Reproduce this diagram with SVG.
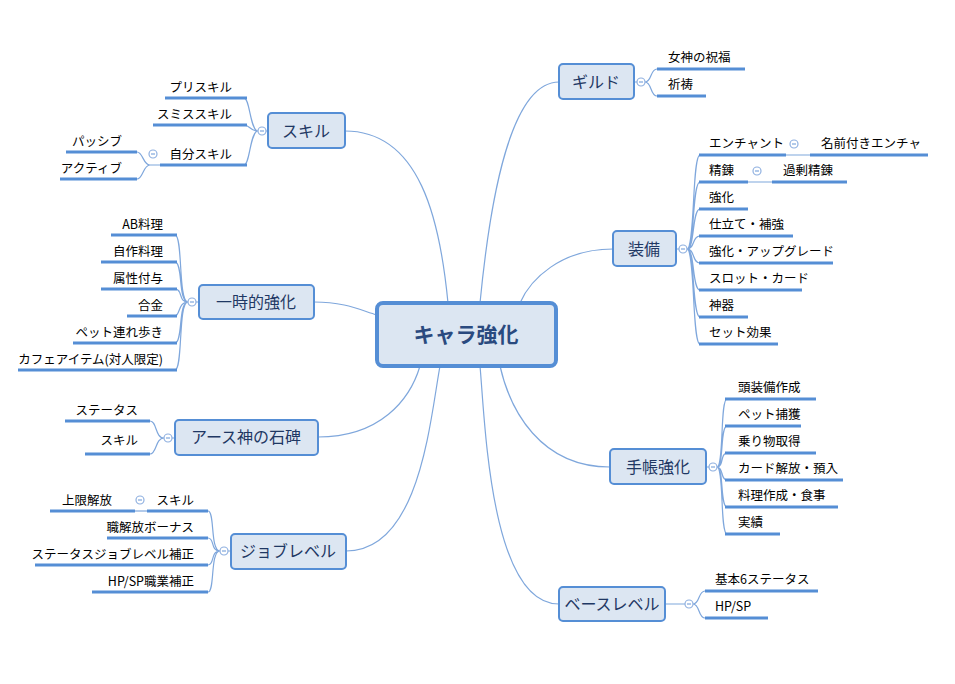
<svg xmlns="http://www.w3.org/2000/svg" width="955" height="684" viewBox="0 0 955 684">
<style>
text{font-family:"Noto Sans CJK JP","Liberation Sans",sans-serif;fill:#000}
.leaf{font-size:12.5px}
.lr{font-size:12.5px;text-anchor:end}
.tp{font-size:16px;fill:#1f3864;text-anchor:middle}
.box{fill:#dce6f2;stroke:#558ed5;stroke-width:2}
.ul{stroke:#558ed5;stroke-width:3}
.c{fill:none;stroke:#7fa7dc;stroke-width:1.2}
.col{fill:#fff;stroke:#8fb0e0;stroke-width:1.2}
.m{stroke:#7fa7dc;stroke-width:1.2}
</style>
<rect width="955" height="684" fill="#fff"/>
<g id="connectors">
<path class="c" d="M345,131 C420,131 440,220 448,303"/>
<path class="c" d="M314,302 C345,302 360,310 377,315"/>
<path class="c" d="M318,437 C380,437 410,400 420,366"/>
<path class="c" d="M346,551 C420,551 430,420 440,366"/>
<path class="c" d="M559,82 C510,82 490,200 480,303"/>
<path class="c" d="M613,249 C560,249 530,280 520,303"/>
<path class="c" d="M610,467 C540,467 510,410 500,366"/>
<path class="c" d="M559,604 C490,604 485,420 480,366"/>
<!-- skill -->
<path class="c" d="M268,131 H266 M258,131 C250,131 250,98 244,98 M258,131 C250,131 250,125 244,125 M258,131 C250,131 250,165 244,165"/>
<path class="c" d="M160,165 H150 C143,165 143,152 137,152 M150,165 C143,165 143,179 137,179"/>
<!-- temp -->
<path class="c" d="M199,302 H196 M188,302 C178,302 183,235 175,235 M188,302 C178,302 183,262 175,262 M188,302 C178,302 183,289 175,289 M188,302 C178,302 180,316 175,316 M188,302 C178,302 183,343 175,343 M188,302 C178,302 183,370 175,370"/>
<!-- earth -->
<path class="c" d="M175,438 H172 M164,438 C155,438 157,421 150,421 M164,438 C155,438 157,454 150,454"/>
<!-- job -->
<path class="c" d="M231,551 H228 M220,551 C210,551 215,511 208,511 M220,551 C210,551 215,538 208,538 M220,551 C210,551 215,565 208,565 M220,551 C210,551 215,592 208,592"/>
<path class="c" d="M147,511 H135"/>
<!-- guild -->
<path class="c" d="M634,82 H637 M645,82 C652,82 650,69 657,69 M645,82 C652,82 650,96 657,96"/>
<!-- equip -->
<path class="c" d="M676,249 H679 M687,249 C695,249 692,155 700,155 M687,249 C695,249 692,182 700,182 M687,249 C695,249 692,209 700,209 M687,249 C695,249 692,236 700,236 M687,249 C695,249 692,263 700,263 M687,249 C695,249 692,290 700,290 M687,249 C695,249 692,317 700,317 M687,249 C695,249 692,344 700,344"/>
<path class="c" d="M786,155 H810 M748,182 H772"/>
<!-- techo -->
<path class="c" d="M706,467 H709 M717,467 C724,467 720,399 727,399 M717,467 C724,467 720,426 727,426 M717,467 C724,467 720,453 727,453 M717,467 C724,467 720,480 727,480 M717,467 C724,467 720,507 727,507 M717,467 C724,467 720,534 727,534"/>
<!-- base -->
<path class="c" d="M665,604 H685 M693,604 C700,604 698,591 705,591 M693,604 C700,604 698,618 705,618"/>
</g>
<g id="center"><rect x="377" y="303" width="179" height="63" rx="6" fill="#dce6f2" stroke="#558ed5" stroke-width="4"/><text x="466" y="342" font-size="21" font-weight="bold" fill="#1f4e8c" text-anchor="middle" style="fill:#2a4a7f">キャラ強化</text></g>
<g id="skill"><rect class="box" x="268" y="113" width="77" height="35" rx="4"/><text class="tp" x="306" y="137">スキル</text><circle class="col" cx="262" cy="131" r="4"/><line class="m" x1="260" y1="131" x2="264" y2="131"/>
<line class="ul" x1="165" y1="98" x2="247" y2="98"/><text class="lr" x="232" y="92">プリスキル</text>
<line class="ul" x1="153" y1="125" x2="247" y2="125"/><text class="lr" x="232" y="119">スミススキル</text>
<line class="ul" x1="160" y1="165" x2="247" y2="165"/><text class="lr" x="232" y="159">自分スキル</text>
<circle class="col" cx="153" cy="154" r="4"/><line class="m" x1="151" y1="154" x2="155" y2="154"/>
<line class="ul" x1="66" y1="152" x2="137" y2="152"/><text class="lr" x="122" y="146">パッシブ</text>
<line class="ul" x1="60" y1="179" x2="137" y2="179"/><text class="lr" x="122" y="173">アクティブ</text></g>
<g id="temp"><rect class="box" x="199" y="285" width="115" height="34" rx="4"/><text class="tp" x="256" y="308">一時的強化</text><circle class="col" cx="192" cy="302" r="4"/><line class="m" x1="190" y1="302" x2="194" y2="302"/>
<line class="ul" x1="111" y1="235" x2="177" y2="235"/><text class="lr" x="163" y="229">AB料理</text>
<line class="ul" x1="101" y1="262" x2="177" y2="262"/><text class="lr" x="163" y="256">自作料理</text>
<line class="ul" x1="101" y1="289" x2="177" y2="289"/><text class="lr" x="163" y="283">属性付与</text>
<line class="ul" x1="127" y1="316" x2="177" y2="316"/><text class="lr" x="163" y="310">合金</text>
<line class="ul" x1="73" y1="343" x2="177" y2="343"/><text class="lr" x="163" y="337">ペット連れ歩き</text>
<line class="ul" x1="18" y1="370" x2="177" y2="370"/><text class="lr" x="163" y="364">カフェアイテム(対人限定)</text></g>
<g id="earth"><rect class="box" x="175" y="420" width="143" height="35" rx="4"/><text class="tp" x="246" y="443">アース神の石碑</text><circle class="col" cx="168" cy="438" r="4"/><line class="m" x1="166" y1="438" x2="170" y2="438"/>
<line class="ul" x1="65" y1="421" x2="150" y2="421"/><text class="lr" x="138" y="415">ステータス</text>
<line class="ul" x1="85" y1="454" x2="150" y2="454"/><text class="lr" x="138" y="445">スキル</text></g>
<g id="job"><rect class="box" x="231" y="534" width="115" height="35" rx="4"/><text class="tp" x="288" y="557">ジョブレベル</text><circle class="col" cx="224" cy="551" r="4"/><line class="m" x1="222" y1="551" x2="226" y2="551"/>
<line class="ul" x1="147" y1="511" x2="208" y2="511"/><text class="lr" x="194" y="505">スキル</text>
<circle class="col" cx="140" cy="500" r="4"/><line class="m" x1="138" y1="500" x2="142" y2="500"/>
<line class="ul" x1="50" y1="511" x2="135" y2="511"/><text class="lr" x="112" y="505">上限解放</text>
<line class="ul" x1="107" y1="538" x2="208" y2="538"/><text class="lr" x="194" y="532">職解放ボーナス</text>
<line class="ul" x1="35" y1="565" x2="208" y2="565"/><text class="lr" x="194" y="559">ステータスジョブレベル補正</text>
<line class="ul" x1="92" y1="592" x2="208" y2="592"/><text class="lr" x="194" y="586">HP/SP職業補正</text></g>
<g id="guild"><rect class="box" x="559" y="64" width="75" height="35" rx="4"/><text class="tp" x="596" y="88">ギルド</text><circle class="col" cx="641" cy="82" r="4"/><line class="m" x1="639" y1="82" x2="643" y2="82"/>
<line class="ul" x1="657" y1="69" x2="745" y2="69"/><text class="leaf" x="668" y="62">女神の祝福</text>
<line class="ul" x1="657" y1="96" x2="706" y2="96"/><text class="leaf" x="668" y="89">祈祷</text></g>
<g id="equip"><rect class="box" x="613" y="231" width="63" height="35" rx="4"/><text class="tp" x="644" y="255">装備</text><circle class="col" cx="683" cy="249" r="4"/><line class="m" x1="681" y1="249" x2="685" y2="249"/>
<line class="ul" x1="699" y1="155" x2="786" y2="155"/><text class="leaf" x="709" y="148">エンチャント</text>
<circle class="col" cx="794" cy="144" r="4"/><line class="m" x1="792" y1="144" x2="796" y2="144"/>
<line class="ul" x1="810" y1="155" x2="928" y2="155"/><text class="leaf" x="821" y="148">名前付きエンチャ</text>
<line class="ul" x1="699" y1="182" x2="748" y2="182"/><text class="leaf" x="709" y="175">精錬</text>
<circle class="col" cx="757" cy="171" r="4"/><line class="m" x1="755" y1="171" x2="759" y2="171"/>
<line class="ul" x1="772" y1="182" x2="847" y2="182"/><text class="leaf" x="783" y="175">過剰精錬</text>
<line class="ul" x1="699" y1="209" x2="748" y2="209"/><text class="leaf" x="709" y="202">強化</text>
<line class="ul" x1="699" y1="236" x2="793" y2="236"/><text class="leaf" x="709" y="229">仕立て・補強</text>
<line class="ul" x1="699" y1="263" x2="833" y2="263"/><text class="leaf" x="709" y="256">強化・アップグレード</text>
<line class="ul" x1="699" y1="290" x2="802" y2="290"/><text class="leaf" x="709" y="283">スロット・カード</text>
<line class="ul" x1="699" y1="317" x2="748" y2="317"/><text class="leaf" x="709" y="310">神器</text>
<line class="ul" x1="699" y1="344" x2="778" y2="344"/><text class="leaf" x="709" y="337">セット効果</text></g>
<g id="techo"><rect class="box" x="610" y="449" width="96" height="35" rx="4"/><text class="tp" x="658" y="473">手帳強化</text><circle class="col" cx="713" cy="467" r="4"/><line class="m" x1="711" y1="467" x2="715" y2="467"/>
<line class="ul" x1="725" y1="399" x2="816" y2="399"/><text class="leaf" x="738" y="392">頭装備作成</text>
<line class="ul" x1="725" y1="426" x2="801" y2="426"/><text class="leaf" x="738" y="419">ペット捕獲</text>
<line class="ul" x1="725" y1="453" x2="816" y2="453"/><text class="leaf" x="738" y="446">乗り物取得</text>
<line class="ul" x1="725" y1="480" x2="843" y2="480"/><text class="leaf" x="738" y="473">カード解放・預入</text>
<line class="ul" x1="725" y1="507" x2="838" y2="507"/><text class="leaf" x="738" y="500">料理作成・食事</text>
<line class="ul" x1="725" y1="534" x2="780" y2="534"/><text class="leaf" x="738" y="527">実績</text></g>
<g id="base"><rect class="box" x="559" y="587" width="106" height="34" rx="4"/><text class="tp" x="612" y="610">ベースレベル</text><circle class="col" cx="689" cy="604" r="4"/><line class="m" x1="687" y1="604" x2="691" y2="604"/>
<line class="ul" x1="705" y1="591" x2="818" y2="591"/><text class="leaf" x="715" y="584">基本6ステータス</text>
<line class="ul" x1="705" y1="618" x2="768" y2="618"/><text class="leaf" x="715" y="611">HP/SP</text></g>
</svg>
